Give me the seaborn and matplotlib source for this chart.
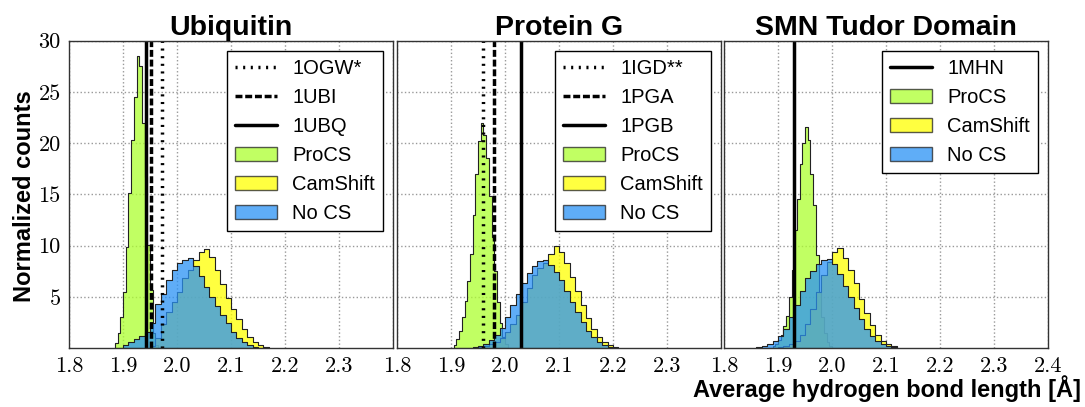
import numpy as np
import pandas as pd
import matplotlib
matplotlib.use("Agg")
import matplotlib.pyplot as plt
from matplotlib.lines import Line2D
from matplotlib.patches import Patch
import seaborn as sns

sns.set_style("white")
plt.rcParams['font.family'] = ['Liberation Sans', 'DejaVu Sans']
plt.rcParams['text.color'] = 'black'
plt.rcParams['xtick.color'] = 'black'
plt.rcParams['ytick.color'] = 'black'

# --- data -----------------------------------------------------------------
# each histogram: left edge of first bin, bin width, heights (normalized counts)
ubq_procs_x0, ubq_procs_w = 1.885, 0.005
ubq_procs = [0.5, 1.5, 3.0, 5.5, 9.9, 15.1, 20.3, 24.5, 28.5, 27.5, 22.0, 16.7,
             10.1, 5.7, 1.5, 0.3]
ubq_cam_x0, ubq_cam_w = 1.95, 0.01
ubq_cam = [0.2, 1.0, 2.3, 3.5, 4.5, 5.5, 6.8, 7.6, 8.6, 9.4, 9.7, 8.9, 7.6, 6.2,
           4.9, 3.8, 2.8, 1.9, 1.1, 0.6, 0.25, 0.1]
ubq_nocs_x0, ubq_nocs_w = 1.90, 0.01
ubq_nocs = [0.3, 0.6, 0.9, 1.2, 1.6, 2.4, 4.3, 5.3, 6.6, 7.6, 8.3, 8.6, 8.8, 8.0,
            7.0, 6.0, 5.0, 4.1, 3.2, 2.4, 1.6, 1.0, 0.6, 0.3, 0.1]

pg_procs_x0, pg_procs_w = 1.905, 0.005
pg_procs = [0.3, 0.9, 1.7, 3.0, 4.6, 6.5, 9.2, 13.0, 17.0, 20.2, 22.0, 20.8,
            18.5, 14.8, 10.8, 7.5, 4.5, 2.4, 1.1, 0.4]
pg_cam_x0, pg_cam_w = 1.95, 0.01
pg_cam = [0.1, 0.2, 0.4, 0.6, 1.0, 1.6, 2.3, 3.2, 4.5, 5.9, 7.1, 7.8, 8.3, 9.2,
          10.0, 9.4, 8.3, 6.9, 5.6, 4.2, 2.9, 1.9, 1.1, 0.6, 0.3, 0.1]
pg_nocs_x0, pg_nocs_w = 1.94, 0.01
pg_nocs = [0.1, 0.2, 0.4, 0.8, 1.3, 2.0, 3.0, 4.2, 5.3, 6.3, 7.3, 8.0, 8.5, 8.6,
           8.1, 7.4, 6.6, 5.6, 4.5, 3.5, 2.5, 1.7, 1.1, 0.6, 0.3, 0.1]

smn_procs_x0, smn_procs_w = 1.89, 0.005
smn_procs = [0.2, 0.4, 0.8, 1.3, 2.1, 3.1, 5.0, 7.6, 11.5, 14.5, 18.0, 20.0,
             21.6, 20.3, 17.0, 14.0, 9.1, 5.5, 3.0, 1.5, 0.6, 0.2]
smn_cam_x0, smn_cam_w = 1.90, 0.01
smn_cam = [0.1, 0.2, 0.4, 0.7, 1.3, 2.3, 3.8, 5.5, 7.1, 8.4, 9.4, 9.8, 8.8, 7.6,
           6.3, 4.8, 3.4, 2.2, 1.3, 0.7, 0.35, 0.15]
smn_nocs_x0, smn_nocs_w = 1.86, 0.01
smn_nocs = [0.05, 0.15, 0.35, 0.7, 1.2, 1.9, 3.0, 4.2, 5.6, 6.8, 7.5, 8.2, 8.6,
            8.7, 8.2, 7.2, 6.1, 5.0, 3.9, 2.8, 1.9, 1.2, 0.7, 0.35, 0.15, 0.05]

# reference crystal/NMR structures
ubq_refs = ["1OGW*", "1UBI", "1UBQ"]
ubq_ref_vals = [1.972, 1.951, 1.942]
pg_refs = ["1IGD**", "1PGA", "1PGB"]
pg_ref_vals = [1.960, 1.980, 2.030]
smn_refs = ["1MHN"]
smn_ref_vals = [1.930]

titles = ["Ubiquitin", "Protein G", "SMN Tudor Domain"]
series_names = ["ProCS", "CamShift", "No CS"]
colors = ["#adff2f", "#ffff00", "#2a92f5"]
xticks = [1.8, 1.9, 2.0, 2.1, 2.2, 2.3, 2.4]
yticks = [5, 10, 15, 20, 25, 30]

panels = [
    ([(ubq_procs_x0, ubq_procs_w, ubq_procs), (ubq_cam_x0, ubq_cam_w, ubq_cam),
      (ubq_nocs_x0, ubq_nocs_w, ubq_nocs)], ubq_refs, ubq_ref_vals),
    ([(pg_procs_x0, pg_procs_w, pg_procs), (pg_cam_x0, pg_cam_w, pg_cam),
      (pg_nocs_x0, pg_nocs_w, pg_nocs)], pg_refs, pg_ref_vals),
    ([(smn_procs_x0, smn_procs_w, smn_procs), (smn_cam_x0, smn_cam_w, smn_cam),
      (smn_nocs_x0, smn_nocs_w, smn_nocs)], smn_refs, smn_ref_vals),
]

ref_styles = {
    3: [dict(linestyle=(0, (0.6, 1.6))), dict(linestyle=(0, (2.0, 0.8))), dict(linestyle='-')],
    1: [dict(linestyle='-')],
}

fig = plt.figure(figsize=(10.85, 4.07), dpi=100)
lefts = [69, 397, 724]
alpha = 0.75

for i, ((hists, refs, ref_vals), left) in enumerate(zip(panels, lefts)):
    ax = fig.add_axes([left / 1085, 59 / 407, 324 / 1085, 307.3 / 407])
    handles = []
    for (x0, w, h), name, c in zip(hists, series_names, colors):
        edges = x0 + w * np.arange(len(h) + 1)
        df = pd.DataFrame({"x": edges[:-1] + w / 2, "w": h})
        sns.histplot(data=df, x="x", weights="w", bins=list(edges), element="step",
                     fill=True, color=c, alpha=alpha, edgecolor="#222222", linewidth=0.8, ax=ax)
        handles.append(Patch(facecolor=c, edgecolor="#222222", alpha=alpha, label=name))
    line_handles = []
    for ref, val, st in zip(refs, ref_vals, ref_styles[len(refs)]):
        ax.axvline(val, color="k", lw=2.5, **st)
        line_handles.append(Line2D([], [], color="k", lw=2.5, label=ref, **st))

    ax.set_xlim(1.8, 2.4)
    ax.set_ylim(0, 30)
    ax.set_xticks(xticks)
    xl = [f"{t:.1f}" for t in xticks]
    if i < 2:
        xl[-1] = ""
    ax.set_xticklabels(xl, fontfamily="cmr10", fontsize=16)
    ax.set_yticks(yticks)
    if i == 0:
        ax.set_yticklabels([str(t) for t in yticks], fontfamily="cmr10", fontsize=16)
    else:
        ax.set_yticklabels([])
    ax.tick_params(length=0, pad=6)
    ax.set_xlabel("")
    ax.set_ylabel("")
    ax.grid(True, color="0.6", linestyle=":", linewidth=1)
    ax.set_axisbelow(True)
    for sp in ax.spines.values():
        sp.set_color("0.2")
        sp.set_linewidth(1.0)
    ax.set_title(titles[i], fontsize=20.5, fontweight="bold", pad=4)
    leg = ax.legend(handles=line_handles + handles, loc="upper right", fontsize=14.5,
                    fancybox=False, framealpha=1, edgecolor="k", handlelength=2.1,
                    handletextpad=0.75, borderaxespad=0.5, labelspacing=0.5)
    leg.get_frame().set_linewidth(1.0)

fig.text(0.023, 0.518, "Normalized counts", rotation=90, ha="center", va="center",
         fontsize=17, fontweight="bold")
fig.text(0.996, 0.012, "Average hydrogen bond length [Å]", ha="right", va="bottom",
         fontsize=17, fontweight="bold")

fig.savefig("out.png", dpi=100)
